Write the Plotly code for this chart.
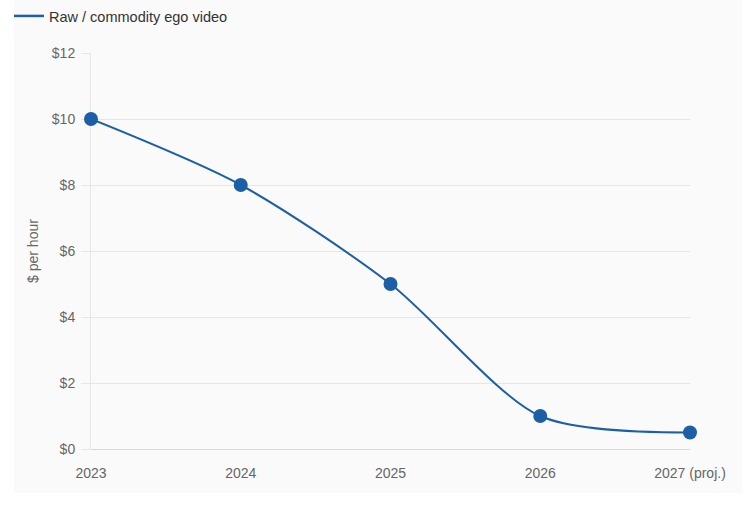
import plotly.graph_objects as go

categories = ["2023", "2024", "2025", "2026", "2027 (proj.)"]
values = [10, 8, 5, 1, 0.5]
series_name = "Raw / commodity ego video"
y_ticks = [0, 2, 4, 6, 8, 10, 12]
y_tick_labels = ["$0", "$2", "$4", "$6", "$8", "$10", "$12"]

W, H = 751, 513
L, R, T, B = 91, 61, 53, 64
pw, ph = W - L - R, H - T - B

def px_x(p):
    return (p - L) / pw

def px_y(p):
    return (H - B - p) / ph

color = "#1d5fa7"
fig = go.Figure()
fig.add_trace(go.Scatter(
    x=categories, y=values, mode="lines+markers",
    line=dict(color=color, width=2, shape="spline", smoothing=0.8),
    marker=dict(color=color, size=14),
    showlegend=False, cliponaxis=False, hoverinfo="x+y",
))
fig.add_trace(go.Scatter(
    x=[None], y=[None], mode="lines", name=series_name,
    line=dict(color=color, width=2.5), showlegend=True,
))

fig.add_shape(type="rect", xref="paper", yref="paper",
              x0=px_x(14), x1=px_x(742), y0=px_y(493), y1=px_y(0),
              fillcolor="#fafafa", line=dict(width=0), layer="below")

fig.update_layout(
    width=W, height=H,
    margin=dict(l=L, r=R, t=T, b=B, pad=0, autoexpand=False),
    paper_bgcolor="white", plot_bgcolor="rgba(0,0,0,0)",
    font=dict(family="Liberation Sans, Arial, sans-serif", color="#666", size=14),
    showlegend=True,
    legend=dict(orientation="h", x=px_x(9), y=px_y(0), xanchor="left", yanchor="top",
                font=dict(size=14.5, color="#333"), bgcolor="rgba(0,0,0,0)",
                itemwidth=30),
    xaxis=dict(type="category", range=[0, 4], showgrid=False, zeroline=False,
               showline=False, ticks="", ticklabelstandoff=14,
               tickfont=dict(size=14, color="#666"), fixedrange=True,
               layer="below traces", automargin=False),
    yaxis=dict(range=[0, 12], tickvals=y_ticks, ticktext=y_tick_labels,
               showgrid=True, gridcolor="#e6e6e6", gridwidth=1,
               zeroline=True, zerolinecolor="#d9d9d9", zerolinewidth=1,
               showline=True, linecolor="#e6e6e6", linewidth=1,
               ticks="outside", ticklen=9, tickcolor="#e6e6e6",
               ticklabelstandoff=3, layer="below traces", automargin=False,
               tickfont=dict(size=14, color="#666"),
               title=dict(text="$ per hour", font=dict(size=14, color="#666"), standoff=9),
               fixedrange=True),
)

fig.write_html("out.html")
